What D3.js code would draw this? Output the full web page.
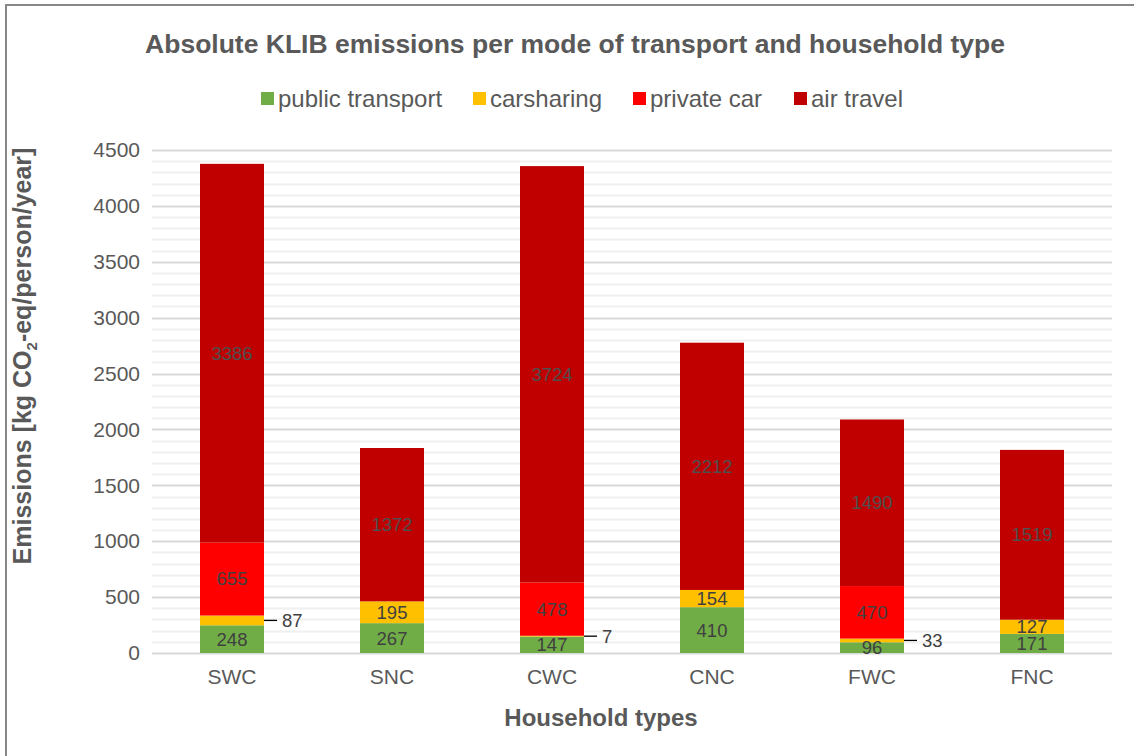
<!DOCTYPE html>
<html>
<head>
<meta charset="utf-8">
<script src="https://cdn.jsdelivr.net/npm/d3@7"></script>
<style>
  body { margin: 0; background: #fff; }
  svg { display: block; font-family: "Liberation Sans", Arial, sans-serif; }
</style>
</head>
<body>
<svg id="chart"></svg>
<script>
// household types and the four transport modes (stacked bottom -> top)
var categories = ["SWC", "SNC", "CWC", "CNC", "FWC", "FNC"];
var modes = ["public transport", "carsharing", "private car", "air travel"];
var publicTransport = [248, 267, 147, 410, 96, 171];
var carsharing = [87, 195, 7, 154, 33, 127];
var privateCar = [655, 0, 478, 0, 470, 0];
var airTravel = [3386, 1372, 3724, 2212, 1490, 1519];
var yTicks = [0, 500, 1000, 1500, 2000, 2500, 3000, 3500, 4000, 4500];

var colors = ["#70ad47", "#ffc000", "#ff0000", "#c00000"];
var fontFam = "'Liberation Sans', Arial, sans-serif";

var width = 1134;
var height = 756;
var margin = { top: 150, right: 22, bottom: 103, left: 152 };

var svg = d3.select("#chart")
            .attr("width", width)
            .attr("height", height);

// outer chart frame (runs off the right/bottom edge like the original)
svg.append("rect")
   .attr("x", 6).attr("y", 5)
   .attr("width", width + 20).attr("height", height + 20)
   .attr("fill", "none")
   .attr("stroke", "#878787")
   .attr("stroke-width", 2);

var rows = categories.map(function(c, i){
  return {
    cat: c,
    "public transport": publicTransport[i],
    "carsharing": carsharing[i],
    "private car": privateCar[i],
    "air travel": airTravel[i]
  };
});

var stacked = d3.stack().keys(modes)(rows);

var x = d3.scaleBand()
          .domain(categories)
          .range([margin.left, width - margin.right])
          .paddingInner(0.6)
          .paddingOuter(0.3);

var y = d3.scaleLinear()
          .domain([0, 4500])
          .range([height - margin.bottom, margin.top]);

// minor gridlines every 100
var minor = d3.range(100, 4501, 100).filter(function(v){ return v % 500 !== 0; });
svg.append("g").selectAll("line")
   .data(minor).enter().append("line")
   .attr("x1", margin.left).attr("x2", width - margin.right)
   .attr("y1", function(d){ return Math.round(y(d)) + 0.5; })
   .attr("y2", function(d){ return Math.round(y(d)) + 0.5; })
   .attr("stroke", "#f0f0f0").attr("stroke-width", 2);

// major gridlines
svg.append("g").selectAll("line")
   .data(yTicks).enter().append("line")
   .attr("x1", margin.left).attr("x2", width - margin.right)
   .attr("y1", function(d){ return Math.round(y(d)) + 0.5; })
   .attr("y2", function(d){ return Math.round(y(d)) + 0.5; })
   .attr("stroke", "#d9d9d9").attr("stroke-width", 2);

// y axis
var yAxis = d3.axisLeft(y).tickValues(yTicks).tickFormat(d3.format("d"))
              .tickSize(0).tickPadding(12);
var gy = svg.append("g")
   .attr("transform", "translate(" + margin.left + ",0)")
   .call(yAxis);
gy.select(".domain").remove();
gy.selectAll("text")
  .attr("font-size", 21).attr("fill", "#595959")
  .attr("font-family", fontFam);

// x axis
var xAxis = d3.axisBottom(x).tickSize(0).tickPadding(16);
var gx = svg.append("g")
   .attr("transform", "translate(0," + (height - margin.bottom) + ")")
   .call(xAxis);
gx.select(".domain").remove();
gx.selectAll("text")
  .attr("font-size", 21).attr("fill", "#595959")
  .attr("font-family", fontFam);

// bars
var layers = svg.append("g").selectAll("g")
   .data(stacked).enter().append("g")
   .attr("fill", function(d, i){ return colors[i]; });

layers.selectAll("rect")
   .data(function(d){ return d; })
   .enter().append("rect")
   .attr("x", function(d){ return x(d.data.cat); })
   .attr("width", x.bandwidth())
   .attr("y", function(d){ return y(d[1]); })
   .attr("height", function(d){ return y(d[0]) - y(d[1]); });

// segment labels
var labels = [];
stacked.forEach(function(layer, li){
  layer.forEach(function(d){
    var v = d[1] - d[0];
    if (v <= 0) return;
    labels.push({ cat: d.data.cat, v: v, lo: d[0], hi: d[1], mode: li });
  });
});

var labelG = svg.append("g")
   .attr("font-size", 18.5).attr("fill", "#404040")
   .attr("font-family", fontFam);

labels.forEach(function(l){
  var cx = x(l.cat) + x.bandwidth() / 2;
  var cy = (y(l.lo) + y(l.hi)) / 2;
  if (l.mode === 1 && l.v < 100) {
    // thin carsharing slices get a leader line to the right
    var xr = x(l.cat) + x.bandwidth();
    labelG.append("line")
      .attr("x1", xr).attr("x2", xr + 13)
      .attr("y1", cy).attr("y2", cy)
      .attr("stroke", "#000").attr("stroke-width", 1.3);
    labelG.append("text")
      .attr("x", xr + 18).attr("y", cy)
      .attr("dy", "0.35em")
      .text(l.v);
  } else {
    labelG.append("text")
      .attr("x", cx).attr("y", cy)
      .attr("dy", "0.35em")
      .attr("text-anchor", "middle")
      .attr("fill", l.mode === 3 ? "#4f4f4f" : "#404040")
      .text(l.v);
  }
});

// title
svg.append("text")
   .attr("x", 575).attr("y", 53)
   .attr("text-anchor", "middle")
   .attr("font-size", 26.5).attr("font-weight", "bold")
   .attr("font-family", fontFam)
   .attr("fill", "#595959")
   .text("Absolute KLIB emissions per mode of transport and household type");

// legend
var legendX = [261, 473, 633, 794];
var legend = svg.append("g");
modes.forEach(function(m, i){
  var g = legend.append("g").attr("transform", "translate(" + legendX[i] + ",92)");
  g.append("rect").attr("width", 13).attr("height", 13).attr("fill", colors[i]);
  g.append("text").attr("x", 17).attr("y", 6.5).attr("dy", "0.35em")
   .attr("font-size", 24).attr("fill", "#595959")
   .attr("font-family", fontFam)
   .text(m);
});

// axis titles
svg.append("text")
   .attr("x", 601).attr("y", 726)
   .attr("text-anchor", "middle")
   .attr("font-size", 24).attr("font-weight", "bold")
   .attr("font-family", fontFam)
   .attr("fill", "#595959")
   .text("Household types");

var yt = svg.append("text")
   .attr("transform", "translate(31,356) rotate(-90)")
   .attr("text-anchor", "middle")
   .attr("font-size", 25).attr("font-weight", "bold")
   .attr("font-family", fontFam)
   .attr("fill", "#595959");
yt.append("tspan").text("Emissions  [kg CO");
yt.append("tspan").attr("font-size", 15).attr("dy", 6).text("2");
yt.append("tspan").attr("dy", -6).text("-eq/person/year]");
</script>
</body>
</html>
